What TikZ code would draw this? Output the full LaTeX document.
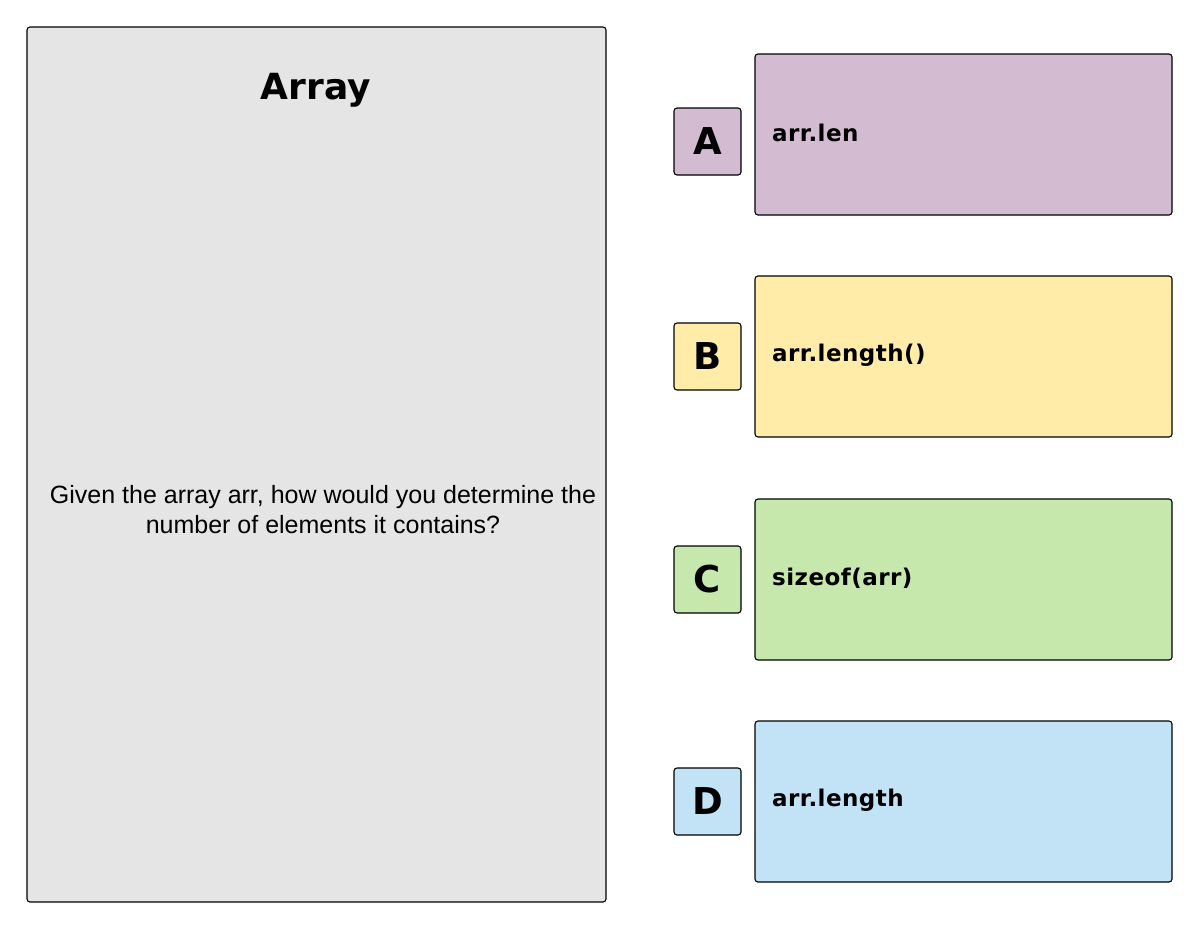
\documentclass[tikz,border=0pt]{standalone}
\usepackage{fontspec}
\setmainfont{Liberation Sans}
\newfontfamily\techfont[LetterSpace=2]{DejaVu Sans}
\newfontfamily\techtitle{DejaVu Sans}
\definecolor{panelgray}{HTML}{E5E5E5}
\definecolor{optA}{HTML}{D3BBD2}
\definecolor{optB}{HTML}{FFECA8}
\definecolor{optC}{HTML}{C7E8AC}
\definecolor{optD}{HTML}{C2E3F6}
\begin{document}
\begin{tikzpicture}[x=1pt,y=-1pt,
  card/.style={draw=black,line width=1.1pt,rounded corners=3pt},
  letterbox/.style={card,minimum width=67pt,minimum height=67pt,inner sep=0pt,
     font=\techtitle\bfseries\fontsize{37}{40}\selectfont},
  optbox/.style={card,minimum width=417pt,minimum height=161pt,inner sep=0pt},
  opttext/.style={anchor=west,inner sep=0pt,font=\techfont\bfseries\fontsize{23}{28}\selectfont}]
\useasboundingbox (0,0) rectangle (1200,930);
% main question panel
\node[card,fill=panelgray,minimum width=579pt,minimum height=875pt,inner sep=0pt] (panel) at (316.5,464.5) {};
\node[inner sep=0pt,font=\techtitle\bfseries\fontsize{36}{40}\selectfont] (title) at (316,90) {Array};
\node[inner sep=0pt,align=center,font=\fontsize{25}{30}\selectfont] (question) at (323,510)
  {Given the array arr, how would you determine the\\number of elements it contains?};
% options
\node[optbox,fill=optA] (boxA) at (963.5,134.5) {};
\node[optbox,fill=optB] (boxB) at (963.5,356.5) {};
\node[optbox,fill=optC] (boxC) at (963.5,579.5) {};
\node[optbox,fill=optD] (boxD) at (963.5,801.5) {};
\node[letterbox,fill=optA] (letA) at (707.5,141.5) {A};
\node[letterbox,fill=optB] (letB) at (707.5,356.5) {B};
\node[letterbox,fill=optC] (letC) at (707.5,579.5) {C};
\node[letterbox,fill=optD] (letD) at (707.5,801.5) {D};
\node[opttext] (txtA) at (772,133) {arr.len};
\node[opttext] (txtB) at (772,355) {arr.length()};
\node[opttext] (txtC) at (772,578) {sizeof(arr)};
\node[opttext] (txtD) at (772,800) {arr.length};
\end{tikzpicture}
\end{document}
